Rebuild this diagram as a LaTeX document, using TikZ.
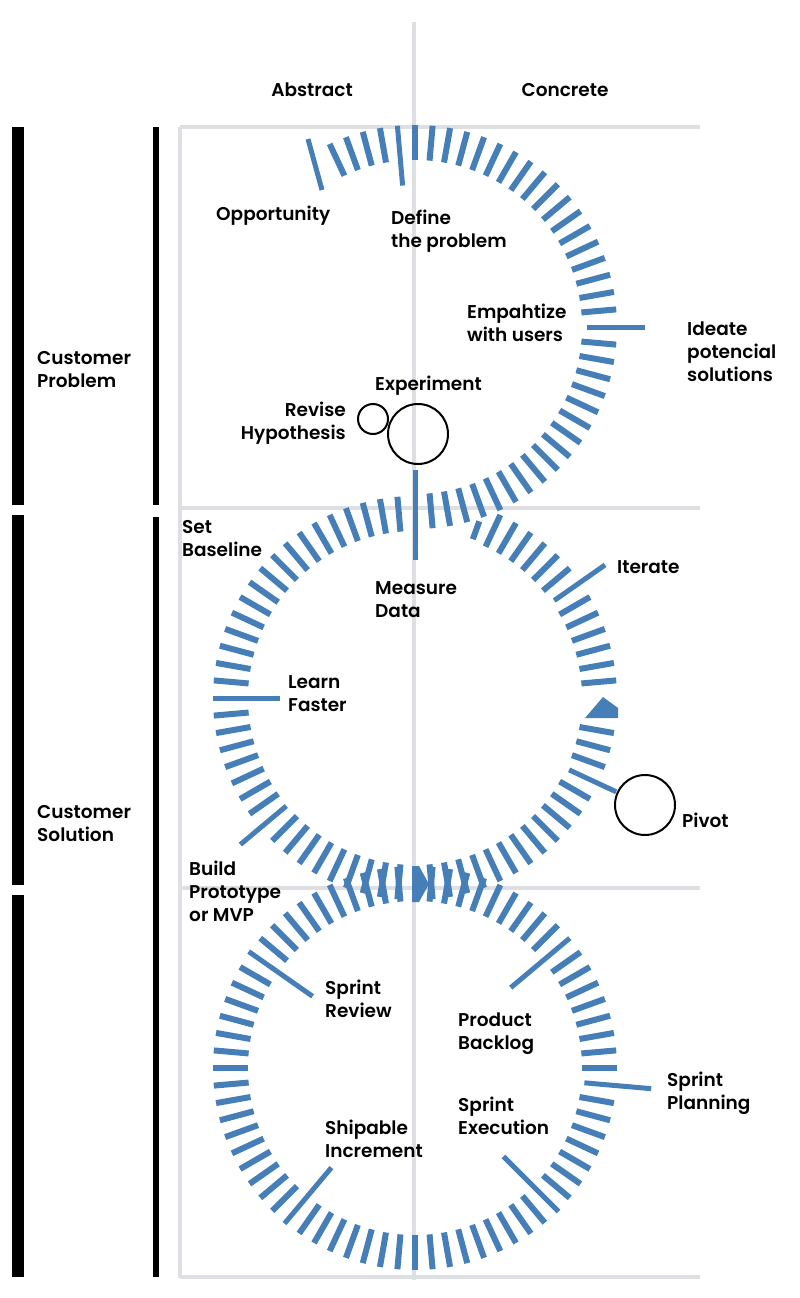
\documentclass[tikz,border=0pt]{standalone}
\usepackage{fontspec}
\setmainfont{Poppins}[UprightFont=* SemiBold]
\definecolor{tickblue}{RGB}{70,127,184}
\definecolor{gridgray}{RGB}{221,223,227}

\begin{document}
\begin{tikzpicture}[x=1pt,y=-1pt,
  tick/.style={draw=tickblue,line width=6pt},
  longtick/.style={draw=tickblue,line width=5pt},
  gridline/.style={draw=gridgray,line width=4pt},
  ring/.style={draw=black,line width=2pt},
  lbl/.style={inner sep=0pt,anchor=west,align=left,yshift=-2pt,font=\fontsize{18.5}{23}\selectfont}]
\useasboundingbox (0,0) rectangle (800,1298);
% grid
\draw[gridline] (414,22) -- (414,1280);
\draw[gridline] (180,127) -- (180,1278);
\draw[gridline] (180,127) -- (700,127);
\draw[gridline] (180,508) -- (700,508);
\draw[gridline] (180,888) -- (700,888);
\draw[gridline] (180,1277) -- (700,1277);
% side bars
\fill (12,127) rectangle (24,505);
\fill (12,515) rectangle (24,885);
\fill (12,895) rectangle (24,1277);
\fill (153,127) rectangle (159,505);
\fill (153,517) rectangle (159,1277);
% centres
\coordinate (ctop) at (415,327);
\coordinate (cmid) at (415,698);
\coordinate (cbot) at (415,1068);
% top arc
\foreach \a in {-115,-110,-105,-100,-90,-85,...,-5,5,10,...,85}
  \draw[tick] ([shift={(\a:167)}]ctop) -- ([shift={(\a:202)}]ctop);
\draw[longtick] (308,139) -- (322,190);
\draw[longtick] ([shift={(-95:142)}]ctop) -- ([shift={(-95:202)}]ctop);
\draw[longtick] ([shift={(0:172)}]ctop) -- ([shift={(0:230)}]ctop);
% middle circle
\foreach \a in {10,15,20,30,35,...,85,95,100,...,135,145,150,...,175,185,190,...,265,295,300,...,320,330,335,...,355}
  \draw[tick] ([shift={(\a:167)}]cmid) -- ([shift={(\a:202)}]cmid);
\draw[tick] ([shift={(290:169)}]cmid) -- ([shift={(290:188)}]cmid);
\draw[longtick] ([shift={(270:138)}]cmid) -- ([shift={(270:228)}]cmid);
\draw[longtick] ([shift={(180:135)}]cmid) -- ([shift={(180:202)}]cmid);
\draw[longtick] ([shift={(-35:170)}]cmid) -- ([shift={(-35:232)}]cmid);
\draw[longtick] ([shift={(140:168)}]cmid) -- ([shift={(140:228)}]cmid);
\draw[longtick] ([shift={(25:170)}]cmid) -- ([shift={(25:222)}]cmid);
\fill[tickblue] (585,718) -- (603,697) -- (618,708) -- (618,718) -- cycle;
\fill[tickblue] (412,866) -- (419,866) -- (429,884) -- (419,902) -- (412,902) -- cycle;
% bottom circle
\foreach \a in {0,10,15,...,40,50,55,...,125,135,140,...,210,220,225,...,265,275,280,...,315,325,330,...,355}
  \draw[tick] ([shift={(\a:167)}]cbot) -- ([shift={(\a:202)}]cbot);
\draw[longtick] ([shift={(215:125)}]cbot) -- ([shift={(215:203)}]cbot);
\draw[longtick] ([shift={(320:125)}]cbot) -- ([shift={(320:202)}]cbot);
\draw[longtick] ([shift={(5:170)}]cbot) -- ([shift={(5:237)}]cbot);
\draw[longtick] ([shift={(45:125)}]cbot) -- ([shift={(45:203)}]cbot);
\draw[longtick] ([shift={(130:130)}]cbot) -- ([shift={(130:203)}]cbot);
% rings
\draw[ring] (373,419) circle (15);
\draw[ring] (418,434) circle (30);
\draw[ring] (645,805) circle (30);
% labels
\node[lbl,anchor=center] (abstract) at (312,88) {Abstract};
\node[lbl,anchor=center] (concrete) at (565,88) {Concrete};
\node[lbl] (problem) at (37,368) {Customer\\Problem};
\node[lbl] (solution) at (37,822) {Customer\\Solution};
\node[lbl] (opportunity) at (216,214) {Opportunity};
\node[lbl] (define) at (391,229) {Define\\the problem};
\node[lbl] (empathize) at (467,321) {Empahtize\\with users};
\node[lbl] (ideate) at (687,350) {Ideate\\potencial\\solutions};
\node[lbl] (experiment) at (375,384) {Experiment};
\node[lbl,anchor=east,align=right] (revise) at (346,421) {Revise\\Hypothesis};
\node[lbl] (baseline) at (182,537) {Set\\Baseline};
\node[lbl] (measure) at (375,598) {Measure\\Data};
\node[lbl] (iterate) at (617,565) {Iterate};
\node[lbl] (learn) at (288,692) {Learn\\Faster};
\node[lbl] (pivot) at (682,818) {Pivot};
\node[lbl] (build) at (189,889) {Build\\Prototype\\or MVP};
\node[lbl] (review) at (325,997) {Sprint\\Review};
\node[lbl] (backlog) at (458,1032) {Product\\Backlog};
\node[lbl] (planning) at (667,1091) {Sprint\\Planning};
\node[lbl] (execution) at (458,1114) {Sprint\\Execution};
\node[lbl] (shipable) at (325,1137) {Shipable\\Increment};
\end{tikzpicture}
\end{document}
